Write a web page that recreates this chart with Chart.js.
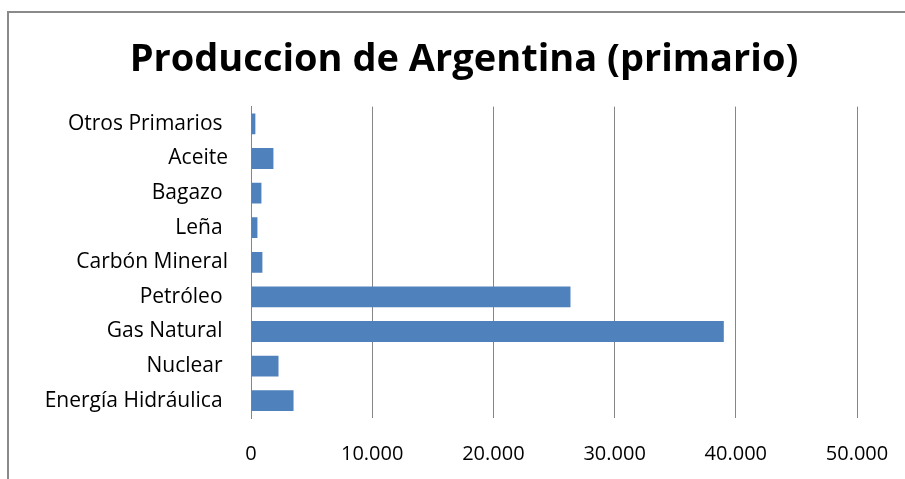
<!DOCTYPE html>
<html>
<head>
<meta charset="utf-8">
<script src="https://cdn.jsdelivr.net/npm/chart.js@4"></script>
<style>
  html, body { margin: 0; padding: 0; background: #fff; }
  #wrap { width: 905px; height: 479px; position: relative; }
</style>
</head>
<body>
<div id="wrap"><canvas id="myChart"></canvas></div>
<script>
// datos (los espacios finales vienen del original)
const categorias = ['Otros Primarios ', 'Aceite', 'Bagazo ', 'Leña ', 'Carbón Mineral', 'Petróleo ', 'Gas Natural ', 'Nuclear ', 'Energía Hidráulica '];
const produccion = [360, 1850, 860, 530, 940, 26360, 39010, 2270, 3510];
const xTicks = ['0', '10.000', '20.000', '30.000', '40.000', '50.000'];

// marco gris arriba / izquierda como en la imagen
Chart.register({
    id: 'marco',
    beforeDraw: function(chart) {
        const ctx = chart.ctx;
        ctx.save();
        ctx.strokeStyle = '#8a8a8a';
        ctx.lineWidth = 2;
        ctx.beginPath();
        ctx.moveTo(8, 479);
        ctx.lineTo(8, 12);
        ctx.lineTo(905, 12);
        ctx.stroke();
        ctx.restore();
    }
});

const ctx = document.getElementById('myChart').getContext('2d');

new Chart(ctx, {
    type: 'bar',
    data: {
        labels: categorias,
        datasets: [{
            label: 'Produccion',
            data: produccion,
            backgroundColor: '#4F81BD',
            barPercentage: 0.6,
            categoryPercentage: 1
        }]
    },
    options: {
        indexAxis: 'y',
        responsive: true,
        maintainAspectRatio: false,
        animation: false,
        layout: { padding: { top: 12, left: 30, right: 7, bottom: 0 } },
        plugins: {
            legend: { display: false },
            tooltip: { enabled: false },
            title: {
                display: true,
                text: 'Produccion de Argentina (primario)',
                color: '#000',
                font: { family: 'Open Sans', size: 38, weight: 'bold', lineHeight: 1.2 },
                padding: { top: 25, bottom: 24 }
            }
        },
        scales: {
            x: {
                min: 0,
                max: 50000,
                ticks: {
                    stepSize: 10000,
                    color: '#000',
                    font: { family: 'Open Sans', size: 20 },
                    padding: 24,
                    maxRotation: 0,
                    callback: function(value, index) { return xTicks[index]; }
                },
                grid: { color: '#868686', drawTicks: false },
                border: { display: false },
                afterFit: function(scale) {
                    scale.height = 61;
                    scale.paddingRight = 48;
                }
            },
            y: {
                ticks: {
                    color: '#000',
                    font: { family: 'Open Sans', size: 21 },
                    padding: 23
                },
                grid: { display: false, drawTicks: false },
                border: { display: true, color: '#868686', width: 1 },
                afterFit: function(scale) { scale.width = 221; }
            }
        }
    }
});
</script>
</body>
</html>
